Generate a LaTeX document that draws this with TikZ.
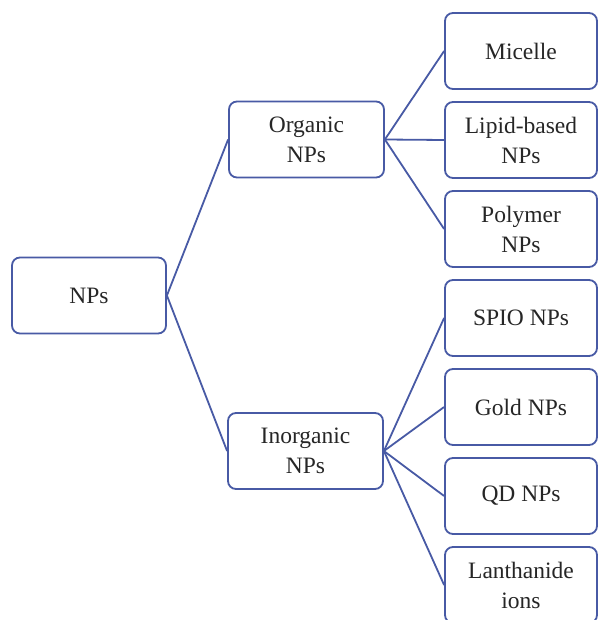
\documentclass[tikz,border=0pt]{standalone}
\usepackage{fontspec}
\setmainfont{Liberation Serif}
\usetikzlibrary{positioning}
\definecolor{npblue}{RGB}{72,90,165}
\tikzset{
  npbox/.style={draw=npblue, line width=1.8pt, rounded corners=8pt, fill=white,
    align=center, minimum width=154pt, minimum height=76pt, inner sep=0pt,
    text=black!85, font=\fontsize{23.5}{30}\selectfont},
  npline/.style={draw=npblue, line width=1.8pt}
}
\begin{document}
\begin{tikzpicture}[x=1pt, y=-1pt]

% Frame of the picture
\useasboundingbox (0,0) rectangle (598,620);
\clip (0,0) rectangle (598,620);
\fill[white] (0,0) rectangle (598,620);

% Root and second level
\node[npbox] (root) at (89,295.5) {NPs};
\node[npbox, minimum width=155pt] (org) at (306.5,139.5) {Organic\\NPs};
\node[npbox, minimum width=155pt] (inorg) at (305.5,451) {Inorganic\\NPs};

% Leaves
\node[npbox, minimum width=152pt] (micelle) at (521,51) {Micelle};
\node[npbox, minimum width=152pt] (lipid) at (521,140) {Lipid-based\\NPs};
\node[npbox, minimum width=152pt] (polymer) at (521,229) {Polymer\\NPs};
\node[npbox, minimum width=152pt] (spio) at (521,318) {SPIO NPs};
\node[npbox, minimum width=152pt] (gold) at (521,407) {Gold NPs};
\node[npbox, minimum width=152pt] (qd) at (521,496) {QD NPs};
\node[npbox, minimum width=152pt] (lanth) at (521,585) {Lanthanide\\ions};

% Connectors
\draw[npline] (root.east) -- (org.west);
\draw[npline] (root.east) -- (inorg.west);
\foreach \leaf in {micelle, lipid, polymer}
  \draw[npline] (org.east) -- (\leaf.west);
\foreach \leaf in {spio, gold, qd, lanth}
  \draw[npline] (inorg.east) -- (\leaf.west);

\end{tikzpicture}
\end{document}
